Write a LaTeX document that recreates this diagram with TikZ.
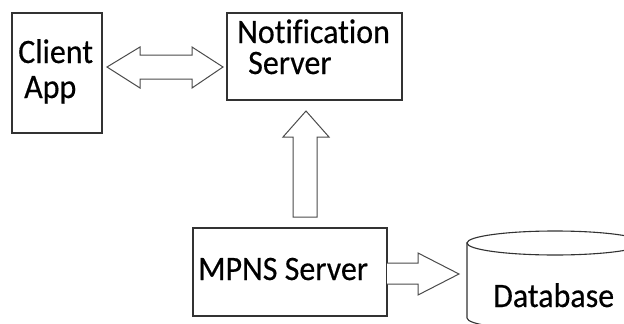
\documentclass[tikz,border=0pt]{standalone}
\usepackage{fontspec}
\setmainfont{Carlito}[Ligatures=NoCommon,FakeBold=0.4]
\definecolor{boxc}{RGB}{50,50,50}
\definecolor{arrc}{RGB}{75,75,75}
\begin{document}
\begin{tikzpicture}[x=1pt,y=-1pt,line join=miter,
  box/.style={draw=boxc,line width=1.3pt,fill=white,inner sep=0pt,outer sep=0pt,anchor=north west},
  blk/.style={draw=arrc,line width=1pt,fill=white},
  lbl/.style={font=\fontsize{32}{38}\selectfont,anchor=base west,inner sep=0pt,text=black}]
\useasboundingbox (0,0) rectangle (624,324);
\clip (0,0) rectangle (624,324);
% boxes
\node[box,minimum width=90pt,minimum height=120pt] (client) at (12,13) {};
\node[box,minimum width=175pt,minimum height=87pt] (notif) at (227,13) {};
\node[box,minimum width=194pt,minimum height=88pt] (mpns) at (193,228) {};
% database cylinder
\draw[draw=boxc,line width=1.1pt,fill=white] (467,243) -- (467,318) arc[start angle=180,end angle=0,x radius=88,y radius=12] -- (643,243) -- cycle;
\draw[draw=boxc,line width=1.1pt,fill=white] (555,243) ellipse [x radius=88,y radius=12];
% labels
\node[lbl] (clientA) at (18,63) {\scalebox{1}[1.07]{Client}};
\node[lbl] (clientB) at (24,98) {\scalebox{1}[1.07]{App}};
\node[lbl] (notifA) at (237,43) {\scalebox{1}[1.07]{Notification}};
\node[lbl] (notifB) at (248,74) {\scalebox{1}[1.07]{Server}};
\node[lbl] (mpnsT) at (198,280) {\scalebox{1}[1.07]{MPNS Server}};
\node[lbl] (dbT) at (493,307) {\scalebox{1}[1.07]{Database}};
% block arrows
\draw[blk] (107,67) -- (140,47) -- (140,55) -- (192,55) -- (192,47) -- (223,67)
  -- (192,88) -- (192,79) -- (140,79) -- (140,88) -- cycle;
\draw[blk] (306,111) -- (329,137) -- (317,137) -- (317,217) -- (293,217) -- (293,137) -- (283,137) -- cycle;
\draw[blk] (387,263) -- (418,263) -- (418,253) -- (459,274) -- (418,295) -- (418,284) -- (387,284);
\end{tikzpicture}
\end{document}
